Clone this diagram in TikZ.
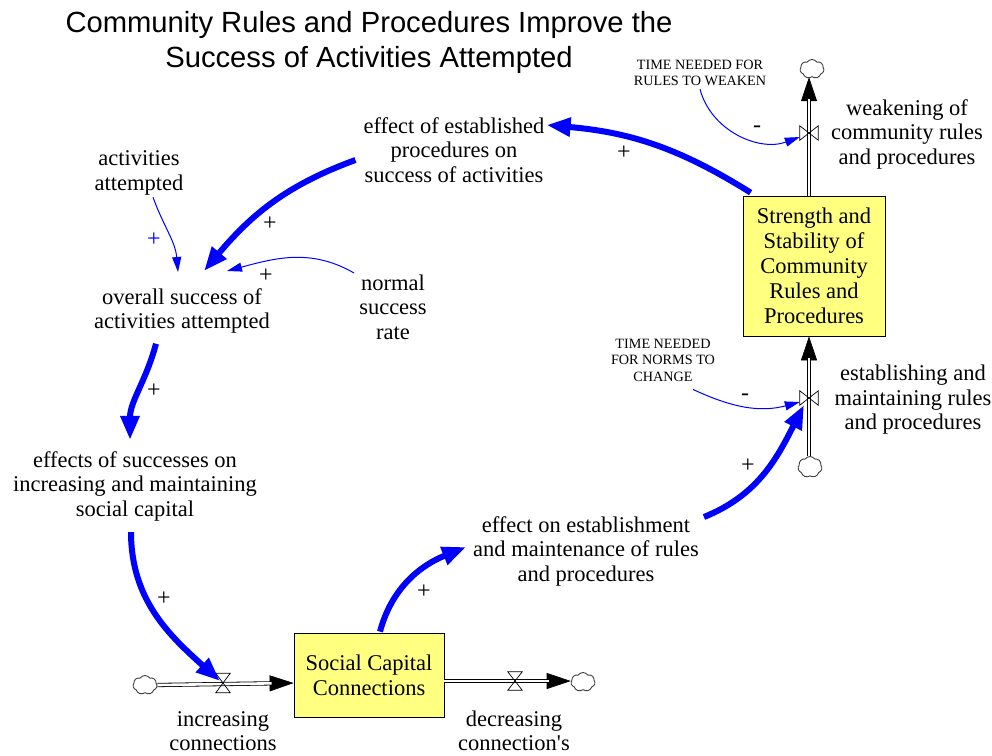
\documentclass[tikz,border=0pt]{standalone}
\usepackage{fontspec}
\setmainfont{Liberation Serif}
\newfontfamily\titlefont{Liberation Sans}
\usetikzlibrary{arrows.meta,shapes.symbols}
\definecolor{stockyellow}{RGB}{255,255,128}
\definecolor{linkblue}{RGB}{0,0,255}
\begin{document}
\begin{tikzpicture}[x=1pt,y=1pt,
  lbl/.style={align=center, font=\fontsize{22.5}{24.5}\selectfont, inner sep=2pt},
  caps/.style={align=center, font=\fontsize{14.2}{16.5}\selectfont, inner sep=1pt},
  stockbox/.style={draw=black, line width=0.8pt, fill=stockyellow, align=center, font=\fontsize{22.5}{25}\selectfont, inner sep=0pt},
  valvept/.style={inner sep=0pt},
  valveshape/.style={draw=black, line width=0.7pt},
  pipe/.style={draw=black, line width=0.8pt, double=white, double distance=2.6pt},
  pipehead/.style={-{Triangle[length=24pt,width=16pt]}, line width=0.6pt},
  cloudnode/.style={cloud, cloud puffs=7, cloud puff arc=110, draw=black!75, fill=white, line width=0.9pt, inner sep=0pt},
  biglink/.style={draw=linkblue, line width=6pt, -{Triangle[length=24pt,width=18pt]}},
  smalllink/.style={draw=linkblue, line width=1pt, -{Triangle[length=15pt,width=9pt]}},
  sgn/.style={font=\fontsize{24}{24}\selectfont, inner sep=0pt},
]
\useasboundingbox (0,0) rectangle (992,-755);
\fill[white] (0,0) rectangle (992,-755);

% title
\node[font=\titlefont\fontsize{29.2}{35}\selectfont, align=center] (title) at (369,-42)
  {Community Rules and Procedures Improve the\\Success of Activities Attempted};

% stocks
\node[stockbox, minimum width=142pt, minimum height=140pt] (stock1) at (814,-266)
  {Strength and\\Stability of\\Community\\Rules and\\Procedures};
\node[stockbox, minimum width=150pt, minimum height=84pt] (stock2) at (369,-675)
  {Social Capital\\Connections};

% clouds
\node[cloudnode, minimum width=24pt, minimum height=19pt] (cw) at (812,-69) {};
\node[cloudnode, minimum width=24pt, minimum height=21pt] (ce) at (810,-467) {};
\node[cloudnode, minimum width=24pt, minimum height=19pt] (ci) at (145,-685) {};
\node[cloudnode, minimum width=24pt, minimum height=19pt] (cd) at (583,-682) {};

% valves
\node[valvept, minimum width=18pt, minimum height=14pt] (vw) at (809,-133) {};
\node[valvept, minimum width=18pt, minimum height=14pt] (ve) at (809,-398) {};
\node[valvept, minimum width=14pt, minimum height=19pt] (vi) at (223,-683) {};
\node[valvept, minimum width=14pt, minimum height=18pt] (vd) at (515,-681) {};

% pipes
\draw[pipehead] (vw |- stock1.north) -- (vw |- cw.south);
\draw[pipe, shorten >=22pt] (vw |- stock1.north) -- (vw |- cw.south);
\draw[pipehead] (ve |- ce.north) -- (ve |- stock1.south);
\draw[pipe, shorten >=22pt] (ve |- ce.north) -- (ve |- stock1.south);
\draw[pipehead] (ci.east) -- (stock2.west |- vi);
\draw[pipe, shorten >=22pt] (ci.east) -- (stock2.west |- vi);
\draw[pipehead] (stock2.east |- vd) -- (cd.west |- vd);
\draw[pipe, shorten >=22pt] (stock2.east |- vd) -- (cd.west |- vd);

% valve shapes
\draw[valveshape] (vw.north west) -- (vw.south east) -- (vw.north east) -- (vw.south west) -- cycle;
\draw[valveshape] (ve.north west) -- (ve.south east) -- (ve.north east) -- (ve.south west) -- cycle;
\draw[valveshape] (vi.north west) -- (vi.north east) -- (vi.south west) -- (vi.south east) -- cycle;
\draw[valveshape] (vd.north west) -- (vd.north east) -- (vd.south west) -- (vd.south east) -- cycle;

% flow labels
\node[lbl] (lweak) at (907,-134) {weakening of\\community rules\\and procedures};
\node[lbl] (lestab) at (913,-400) {establishing and\\maintaining rules\\and procedures};
\node[lbl] (linc) at (223,-731) {increasing\\connections};
\node[lbl] (ldec) at (514,-731) {decreasing\\connection\textquotesingle s};

% auxiliaries
\node[lbl] (eff) at (454,-150) {effect of established\\procedures on\\success of activities};
\node[lbl] (act) at (139,-173) {activities\\attempted};
\node[lbl] (overall) at (182,-311) {overall success of\\activities attempted};
\node[lbl] (normal) at (393,-307) {normal\\success\\rate};
\node[lbl] (effsucc) at (135,-486) {effects of successes on\\increasing and maintaining\\social capital};
\node[lbl] (effest) at (586,-551) {effect on establishment\\and maintenance of rules\\and procedures};
\node[caps] (trules) at (700,-73) {TIME NEEDED FOR\\RULES TO WEAKEN};
\node[caps] (tnorms) at (663,-360) {TIME NEEDED\\FOR NORMS TO\\CHANGE};

% links
\draw[biglink] ([xshift=8pt,yshift=3pt]stock1.north west) to[out=148,in=-5] ([yshift=25pt]eff.east);
\draw[biglink] ([xshift=-6pt,yshift=-10pt]eff.west) to[out=200,in=50] (204,-271);
\draw[smalllink] ([xshift=14pt]act.south) to[out=-70,in=95] (178,-272);
\draw[smalllink] ([xshift=-3pt,yshift=34pt]normal.west) to[out=150,in=15] (227,-271);
\draw[biglink] ([xshift=-26pt,yshift=-8pt]overall.south) to[out=-105,in=90] ([xshift=-5pt,yshift=9pt]effsucc.north);
\draw[biglink] ([xshift=-4pt,yshift=-9pt]effsucc.south) to[out=-90,in=138] ([xshift=-3pt,yshift=2pt]vi.center);
\draw[biglink] ([xshift=11pt,yshift=1pt]stock2.north) to[out=75,in=202] ([xshift=-5pt,yshift=4pt]effest.west);
\draw[biglink] ([xshift=3pt,yshift=34pt]effest.east) to[out=22,in=243] ([xshift=-5pt,yshift=-7pt]ve.center);
\draw[smalllink] ([yshift=-2pt]trules.south) to[out=-75,in=200] ([yshift=-4pt]vw.west);
\draw[smalllink] ([xshift=30pt,yshift=-7pt]tnorms.south) to[out=-25,in=195] ([yshift=-4pt]ve.west);

% polarity signs
\node[sgn] (s1) at (624,-153) {+};
\node[sgn] (s2) at (270,-224) {+};
\node[sgn, text=linkblue] (s3) at (154,-240) {+};
\node[sgn] (s4) at (266,-276) {+};
\node[sgn] (s5) at (154,-391) {+};
\node[sgn] (s6) at (164,-599) {+};
\node[sgn] (s7) at (424,-592) {+};
\node[sgn] (s8) at (748,-466) {+};
\node[sgn] (s9) at (757,-129) {-};
\node[sgn] (s10) at (745,-397) {-};
\end{tikzpicture}
\end{document}
